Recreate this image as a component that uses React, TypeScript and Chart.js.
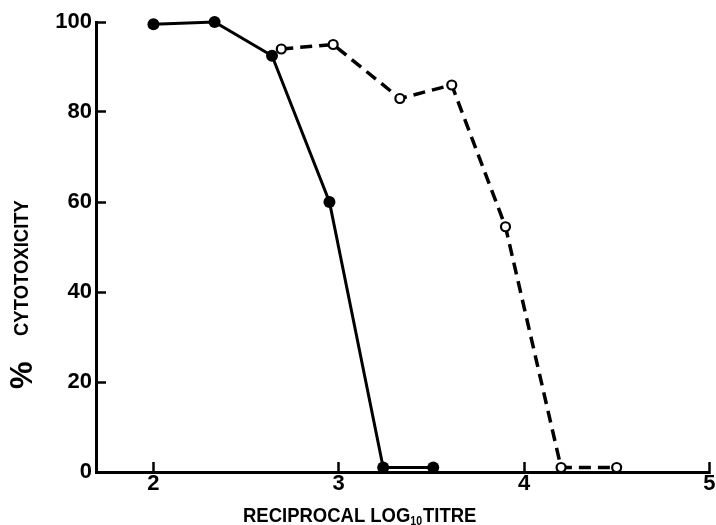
import React, { useEffect, useRef } from "react";
import { Chart, registerables } from "chart.js";

Chart.register(...registerables);

// Solid line, filled circles
const solidX = [2.0, 2.33, 2.64, 2.95, 3.24, 3.51];
const solidY = [99.5, 100, 92.5, 60, 1, 1];

// Dashed line, open circles
const dashedX = [2.69, 2.97, 3.33, 3.61, 3.9, 4.2, 4.5];
const dashedY = [94, 95, 83, 86, 54.5, 1, 1];

const xTickValues = [2, 3, 4, 5];
const yTickValues = [0, 20, 40, 60, 80, 100];

const xTitleMain = "RECIPROCAL LOG";
const xTitleSub = "10";
const xTitleEnd = "TITRE";
const yTitlePct = "%";
const yTitleWord = "CYTOTOXICITY";

const FAMILY = '"Liberation Sans", Arial, sans-serif';

const titlesPlugin = {
  id: "titles",
  afterDraw(chart: any) {
    const ctx = chart.ctx as CanvasRenderingContext2D;
    const sx = 0.88;
    // X title
    ctx.save();
    ctx.fillStyle = "#000";
    ctx.textBaseline = "alphabetic";
    ctx.textAlign = "left";
    ctx.translate(243, 522);
    ctx.scale(sx, 1);
    ctx.font = `bold 21px ${FAMILY}`;
    ctx.fillText(xTitleMain, 0, 0);
    let w = ctx.measureText(xTitleMain).width;
    ctx.font = `bold 12px ${FAMILY}`;
    ctx.fillText(xTitleSub, w, 3);
    w += ctx.measureText(xTitleSub).width + 1;
    ctx.font = `bold 21px ${FAMILY}`;
    ctx.fillText(xTitleEnd, w, 0);
    ctx.restore();

    // Y title (rotated)
    ctx.save();
    ctx.fillStyle = "#000";
    ctx.textBaseline = "middle";
    ctx.textAlign = "left";
    ctx.translate(22, 389);
    ctx.rotate(-Math.PI / 2);
    ctx.font = `bold 31px ${FAMILY}`;
    ctx.fillText(yTitlePct, 0, 1);
    ctx.translate(53, 0);
    ctx.scale(sx, 1);
    ctx.font = `bold 21px ${FAMILY}`;
    ctx.fillText(yTitleWord, 0, 0);
    ctx.restore();
  },
};

export default function App() {
  const ref = useRef<HTMLCanvasElement | null>(null);

  useEffect(() => {
    if (!ref.current) return;
    const tickFont = { family: FAMILY, size: 22, weight: "bold" as const };
    const chart = new Chart(ref.current, {
      type: "line",
      data: {
        datasets: [
          {
            label: "open",
            data: dashedX.map((x, i) => ({ x, y: dashedY[i] })),
            borderColor: "#000",
            borderWidth: 3.5,
            borderDash: [12, 7],
            pointRadius: 4.5,
            pointBorderWidth: 2.2,
            pointBackgroundColor: "#fff",
            pointBorderColor: "#000",
            tension: 0,
            clip: false as any,
          },
          {
            label: "filled",
            data: solidX.map((x, i) => ({ x, y: solidY[i] })),
            borderColor: "#000",
            borderWidth: 3,
            pointRadius: 6,
            pointBorderWidth: 0,
            pointBackgroundColor: "#000",
            pointBorderColor: "#000",
            tension: 0,
            clip: false as any,
          },
        ],
      },
      options: {
        animation: false,
        responsive: false,
        layout: { padding: { left: 0, top: 22, right: 4, bottom: 0 } },
        plugins: {
          legend: { display: false },
          tooltip: { enabled: false },
        },
        scales: {
          x: {
            type: "linear",
            min: 1.69,
            max: 5,
            afterBuildTicks: (s: any) => {
              s.ticks = xTickValues.map((v) => ({ value: v }));
            },
            ticks: {
              stepSize: 1,
              includeBounds: false,
              font: tickFont,
              color: "#000",
              padding: 9,
              maxRotation: 0,
              autoSkip: false,
            },
            grid: {
              display: true,
              drawOnChartArea: false,
              tickLength: -10,
              tickWidth: 2.5,
              tickColor: "#000",
            },
            border: { display: true, color: "#000", width: 3 },
            afterFit: (s: any) => {
              s.height = 53;
              s.paddingLeft = 0;
              s.paddingRight = 0;
            },
          },
          y: {
            type: "linear",
            min: 0,
            max: 100,
            afterBuildTicks: (s: any) => {
              s.ticks = yTickValues.map((v) => ({ value: v }));
            },
            ticks: {
              stepSize: 20,
              font: tickFont,
              color: "#000",
              padding: 14,
              autoSkip: false,
            },
            grid: {
              display: true,
              drawOnChartArea: false,
              tickLength: -10,
              tickWidth: 2.5,
              tickColor: "#000",
            },
            border: { display: true, color: "#000", width: 3 },
            afterFit: (s: any) => {
              s.width = 96;
              s.paddingTop = 0;
              s.paddingBottom = 0;
            },
          },
        },
      },
      plugins: [titlesPlugin],
    });
    return () => chart.destroy();
  }, []);

  return (
    <div style={{ position: "absolute", left: 0, top: 0, width: 716, height: 525, background: "#fff" }}>
      <canvas ref={ref} width={716} height={525} style={{ display: "block" }} />
    </div>
  );
}
